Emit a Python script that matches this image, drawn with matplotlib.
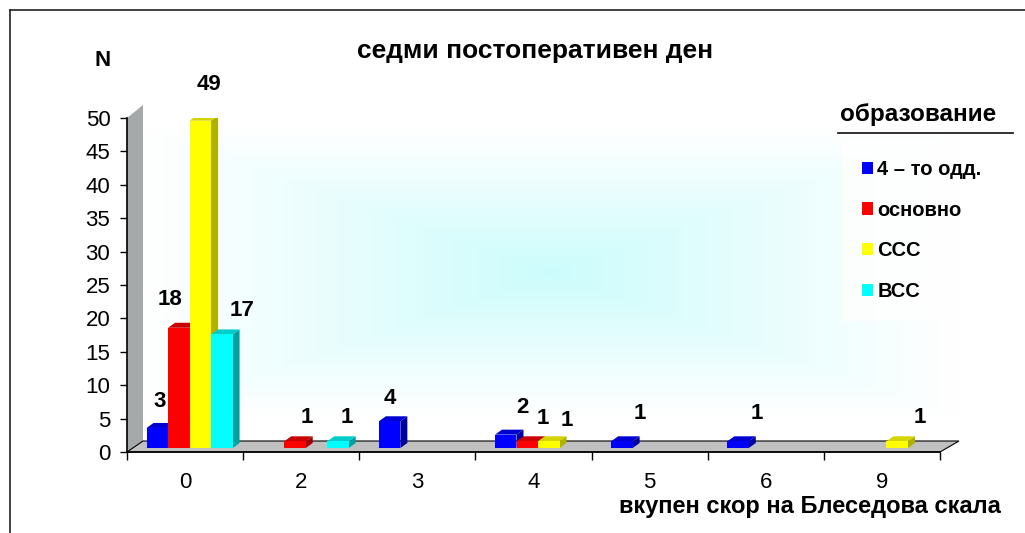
import numpy as np
import matplotlib.pyplot as plt
from matplotlib.patches import Polygon
from matplotlib.transforms import ScaledTranslation

plt.rcParams['font.family'] = ['Liberation Sans', 'DejaVu Sans']

# ---------------- данни ----------------
categories = ['0', '2', '3', '4', '5', '6', '9']
series = ['4 – то одд.', 'основно', 'ССС', 'ВСС']
odd4 = [3, 0, 4, 2, 1, 1, 0]
osnovno = [18, 1, 0, 1, 0, 0, 0]
sss = [49, 0, 0, 1, 0, 0, 1]
vss = [17, 1, 0, 0, 0, 0, 0]
values = [odd4, osnovno, sss, vss]

front_c = ['#0000ff', '#ff0000', '#ffff00', '#00ffff']
side_c = ['#00009c', '#9c0000', '#b0b000', '#00a0a0']
top_c = ['#0000d0', '#c80000', '#d4d400', '#00cccc']

# поместване на етикетите (px) спрямо горния ръб на стълба
lbl_off = {(0, 0): (2, 26), (0, 1): (-9, 28), (0, 2): (9, 36), (0, 3): (20, 24),
           (1, 1): (12, 24), (1, 3): (9, 24),
           (2, 0): (0, 23),
           (3, 0): (17, 27), (3, 1): (16, 23), (3, 2): (18, 21),
           (4, 0): (18, 28), (5, 0): (19, 28), (6, 2): (23, 24)}

W, H = 1025, 533
fig = plt.figure(figsize=(W / 100, H / 100), dpi=100)

# ---------------- фон (пиксели) ----------------
bg = fig.add_axes([0, 0, 1, 1], zorder=0)
yy, xx = np.mgrid[0:H, 0:W]
t = np.maximum(np.abs(xx - 550) / 410.0, np.abs(yy - 272) / 145.0)
f = np.clip(1 - t, 0, 1) ** 1.1
img = np.dstack([1 - 0.2 * f, 1 - 0.012 * f, 1 - 0.012 * f])
bg.imshow(img, extent=(0, W, H, 0), interpolation='bilinear', aspect='auto')
bg.set_xlim(0, W)
bg.set_ylim(H, 0)
bg.axis('off')

# стена и под
x0, x1, y0, y1 = 127, 940, 452, 118
wall = Polygon([(x0, y0), (x0 + 16, y0 - 11), (x0 + 16, y1 - 13), (x0, y1)],
               closed=True, facecolor='#a6a9a9', edgecolor='none')
bg.add_patch(wall)
floor = Polygon([(x0, y0), (x1, y0), (x1 + 19, y0 - 11), (x0 + 16, y0 - 11)],
                closed=True, facecolor='#c0c0c0', edgecolor='black', lw=0.8)
bg.add_patch(floor)

# рамка
bg.plot([10, W], [10, 10], color='#222222', lw=1.2)
bg.plot([10, 10], [10, H], color='#222222', lw=1.2)

# ---------------- диаграма ----------------
ax = fig.add_axes([x0 / W, 1 - y0 / H, (x1 - x0) / W, (y0 - y1) / H], zorder=1)
ax.patch.set_alpha(0)
ax.set_xlim(-0.5, 6.5)
ax.set_ylim(0, 50)

pxx = (x1 - x0) / 7.0
pxy = (y0 - y1) / 50.0
bw = 21.5 / pxx
ddx, ddy = 7 / pxx, 5 / pxy
shift = ax.transData + ScaledTranslation(4.5 / 100, 4 / 100, fig.dpi_scale_trans)

xpos = np.arange(len(categories))
for i, vals in enumerate(values):
    xc = xpos + (i - 1.5) * bw
    for j, v in enumerate(vals):
        if v <= 0:
            continue
        xl, xr = xc[j] - bw / 2, xc[j] + bw / 2
        ax.add_patch(Polygon([(xr, 0), (xr + ddx, ddy), (xr + ddx, v + ddy), (xr, v)],
                             closed=True, facecolor=side_c[i], edgecolor='none',
                             transform=shift))
        ax.add_patch(Polygon([(xl, v), (xr, v), (xr + ddx, v + ddy), (xl + ddx, v + ddy)],
                             closed=True, facecolor=top_c[i], edgecolor='none',
                             transform=shift))
    ax.bar(xc, vals, width=bw, color=front_c[i], lw=0, label=series[i],
           transform=shift)
    for j, v in enumerate(vals):
        if v <= 0:
            continue
        dx, dy = lbl_off.get((j, i), (10, 25))
        ax.annotate(str(v), xy=(xc[j], v), xycoords=shift,
                    xytext=(dx * 0.72, dy * 0.72), textcoords='offset points',
                    ha='center', va='center', fontsize=16, fontweight='bold')

for s in ['top', 'right']:
    ax.spines[s].set_visible(False)
ax.spines['left'].set_linewidth(1.2)
ax.spines['bottom'].set_linewidth(1.2)

ax.set_yticks(np.arange(0, 51, 5))
ax.tick_params(axis='y', length=5, width=1, labelsize=16, pad=7)
ax.set_xticks(xpos)
ax.set_xticklabels(categories)
ax.set_xticks(np.arange(-0.5, 7, 1), minor=True)
ax.tick_params(axis='x', which='major', length=0, labelsize=16, pad=14.5)
ax.tick_params(axis='x', which='minor', length=6, width=1)

# ---------------- текстове ----------------
fig.text(535 / W, 1 - 51 / H, 'седми постоперативен ден', ha='center', va='center',
         fontsize=19, fontweight='bold')
fig.text(103 / W, 1 - 60 / H, 'N', ha='center', va='center',
         fontsize=16, fontweight='bold')
fig.text(810 / W, 1 - 507 / H, 'вкупен скор на Блеседова скала', ha='center',
         va='center', fontsize=17, fontweight='bold')

fig.text(918 / W, 1 - 114 / H, 'образование', ha='center', va='center',
         fontsize=17.5, fontweight='bold')
bg.plot([838, 1013], [133, 133], color='#222222', lw=1.3)

leg = fig.legend(loc='upper left', bbox_to_anchor=(842 / W, 1 - 140 / H),
                 prop={'size': 14.5, 'weight': 'bold'}, handlelength=0.55,
                 handleheight=0.55, handletextpad=0.2, labelspacing=1.07,
                 borderpad=1.0, borderaxespad=0, frameon=True, fancybox=False)
leg.get_frame().set_facecolor('white')
leg.get_frame().set_edgecolor('none')

fig.savefig('out.png', dpi=100)
